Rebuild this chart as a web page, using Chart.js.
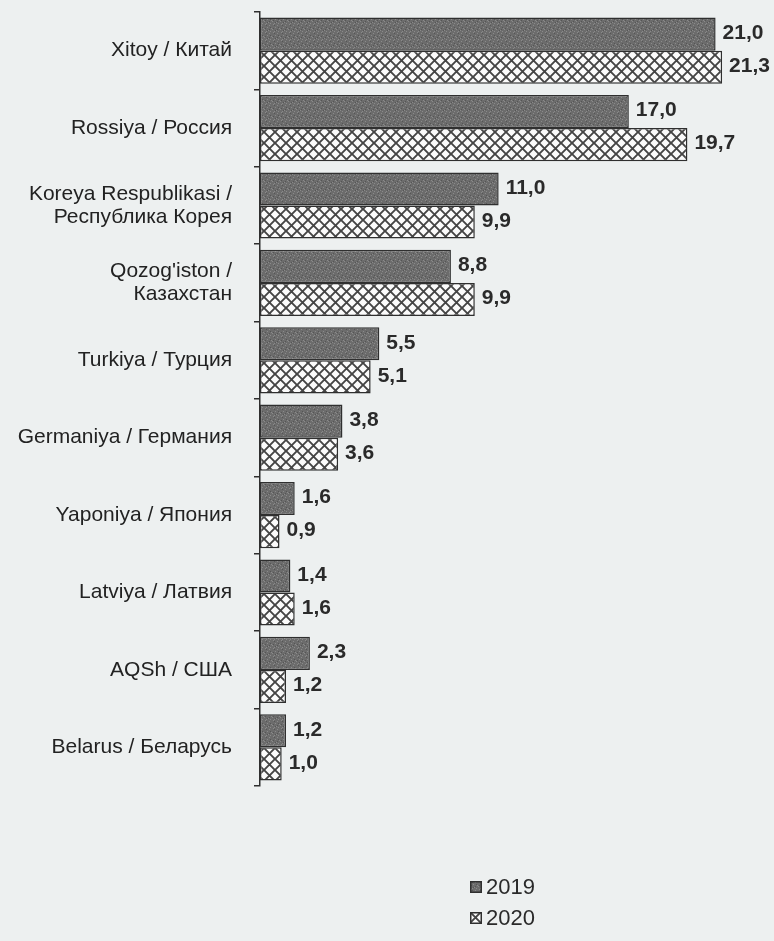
<!DOCTYPE html>
<html>
<head>
<meta charset="utf-8">
<script src="https://cdn.jsdelivr.net/npm/chart.js"></script>
<style>
    body { margin: 0; background: #edf0f0; }
    #wrap { position: relative; width: 774px; height: 941px; }
    #chart { position: absolute; left: 0; top: 0; }
    .legend { position: absolute; left: 470px; font: 22px "Liberation Sans", Arial, sans-serif; color: #2a2a2a; }
    .legend div { display: flex; align-items: center; height: 31px; }
    .legend canvas { margin-right: 4px; }
</style>
</head>
<body>
<div id="wrap">
    <canvas id="chart" width="774" height="800"></canvas>
    <div class="legend" id="legend" style="top: 871px"></div>
</div>
<script>
const countries = [
    "Xitoy / Китай",
    "Rossiya / Россия",
    ["Koreya Respublikasi /", "Республика Корея"],
    ["Qozog'iston /", "Казахстан"],
    "Turkiya / Турция",
    "Germaniya / Германия",
    "Yaponiya / Япония",
    "Latviya / Латвия",
    "AQSh / США",
    "Belarus / Беларусь",
];
const years = ["2019", "2020"];
const values2019 = [21.0, 17.0, 11.0, 8.8, 5.5, 3.8, 1.6, 1.4, 2.3, 1.2];
const values2020 = [21.3, 19.7, 9.9, 9.9, 5.1, 3.6, 0.9, 1.6, 1.2, 1.0];

const ink = "#2f2f2f";
const font = "'Liberation Sans', Arial, sans-serif";

// dark speckled fill, like the printed grey
function greyPattern() {
    const c = document.createElement("canvas");
    c.width = 8;
    c.height = 8;
    const g = c.getContext("2d");
    g.fillStyle = "#6c6c6c";
    g.fillRect(0, 0, 8, 8);
    g.fillStyle = "#8a8a8a";
    [[1, 0], [5, 1], [3, 3], [7, 4], [0, 5], [4, 6], [6, 7], [2, 7]].forEach(([x, y]) => g.fillRect(x, y, 1, 1));
    g.fillStyle = "#555";
    [[2, 1], [6, 3], [1, 4], [5, 5], [3, 6]].forEach(([x, y]) => g.fillRect(x, y, 1, 1));
    return g.createPattern(c, "repeat");
}

// white with diagonal cross-hatching
function hatchPattern() {
    const s = 11;
    const c = document.createElement("canvas");
    c.width = s;
    c.height = s;
    const g = c.getContext("2d");
    g.fillStyle = "#fbfbfb";
    g.fillRect(0, 0, s, s);
    g.strokeStyle = "#444";
    g.lineWidth = 1.9;
    g.beginPath();
    g.moveTo(-1, -1); g.lineTo(s + 1, s + 1);
    g.moveTo(s + 1, -1); g.lineTo(-1, s + 1);
    g.stroke();
    return g.createPattern(c, "repeat");
}

const fills = [greyPattern(), hatchPattern()];

const valueLabels = {
    id: "valueLabels",
    afterDatasetsDraw(chart) {
        const ctx = chart.ctx;
        ctx.save();
        ctx.font = "bold 21px " + font;
        ctx.fillStyle = "#2a2a2a";
        ctx.textAlign = "left";
        ctx.textBaseline = "middle";
        chart.data.datasets.forEach((ds, i) => {
            chart.getDatasetMeta(i).data.forEach((bar, j) => {
                ctx.fillText(ds.data[j].toFixed(1).replace(".", ","), bar.x + 7, bar.y - 1);
            });
        });
        ctx.restore();
    },
};

new Chart(document.getElementById("chart"), {
    type: "bar",
    data: {
        labels: countries,
        datasets: [
            { label: years[0], data: values2019, backgroundColor: fills[0] },
            { label: years[1], data: values2020, backgroundColor: fills[1] },
        ],
    },
    options: {
        indexAxis: "y",
        responsive: false,
        animation: false,
        categoryPercentage: 0.855,
        barPercentage: 1,
        datasets: {
            bar: { borderColor: ink, borderWidth: 1.5, borderSkipped: false },
        },
        layout: { padding: { left: 0, right: 15, top: 12, bottom: 14 } },
        plugins: {
            legend: { display: false },
            tooltip: { enabled: false },
        },
        scales: {
            x: { display: false, min: 0, max: 23 },
            y: {
                afterFit: (s) => {
                    s.width = 260;
                    s.paddingTop = 0;
                    s.paddingBottom = 0;
                },
                border: { display: true, color: ink, width: 1.5 },
                grid: { drawOnChartArea: false, drawTicks: true, tickLength: 6, color: ink, lineWidth: 1.5 },
                ticks: { padding: 22, color: "#222", font: { family: font, size: 21, lineHeight: 1.1 } },
            },
        },
    },
    plugins: [valueLabels],
});

// legend, stacked like in the print
const legend = document.getElementById("legend");
years.forEach((y, i) => {
    const row = document.createElement("div");
    const sw = document.createElement("canvas");
    sw.width = 12;
    sw.height = 12;
    const g = sw.getContext("2d");
    g.fillStyle = fills[i];
    g.fillRect(0, 0, 12, 12);
    g.strokeStyle = ink;
    g.lineWidth = 1.5;
    g.strokeRect(0.75, 0.75, 10.5, 10.5);
    row.appendChild(sw);
    row.appendChild(document.createTextNode(y));
    legend.appendChild(row);
});
</script>
</body>
</html>
